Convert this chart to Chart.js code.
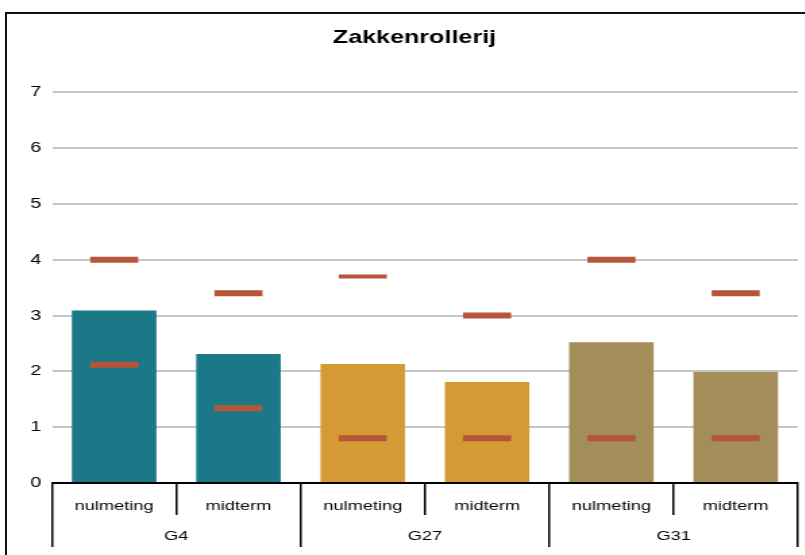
<!DOCTYPE html>
<html>
<head>
<meta charset="utf-8">
<script src="https://cdn.jsdelivr.net/npm/chart.js@4.4.0/dist/chart.umd.min.js"></script>
<style>
  html, body { margin: 0; padding: 0; background: #fff; overflow: hidden; width: 805px; height: 555px; }
  #frame { position: absolute; left: 5px; top: 12px; width: 900px; height: 700px;
           border-left: 2px solid #111; border-top: 2px solid #111; }
  /* the reference is horizontally stretched (and cropped on the right), so draw narrower and stretch */
  #wrap { position: absolute; left: 0; top: 0; width: 614px; height: 555px;
          transform: scaleX(1.35); transform-origin: 0 0; }
</style>
</head>
<body>
<div id="frame"></div>
<div id="wrap"><canvas id="myChart" width="614" height="555"></canvas></div>
<script>
// data
var metingen = ['nulmeting', 'midterm', 'nulmeting', 'midterm', 'nulmeting', 'midterm'];
var groepen = ['G4', 'G27', 'G31'];
var scores = [3.09, 2.31, 2.13, 1.81, 2.52, 1.99];
var bovengrens = [4.0, 3.4, 3.7, 3.0, 4.0, 3.4];
var ondergrens = [2.12, 1.34, 0.8, 0.8, 0.8, 0.8];
var yTicks = [0, 1, 2, 3, 4, 5, 6, 7];

var kleuren = ['#1a7887', '#1a7887', '#d49a33', '#d49a33', '#a38d58', '#a38d58'];
var rood = '#b5553a';
var fontje = { family: 'Liberation Sans, Arial, sans-serif', size: 13.5 };

Chart.defaults.animation = false;

// no extra side padding for the x axes, the labels sit inside their categories
function geenPadding(s) { s.paddingLeft = 0; s.paddingRight = 0; }

var chart = new Chart('myChart', {
  type: 'bar',
  data: {
    labels: metingen,
    datasets: [{
      type: 'line',
      data: bovengrens,
      xAxisID: 'x',
      yAxisID: 'y',
      showLine: false,
      pointStyle: 'line',
      pointRadius: 17.8,
      pointHoverRadius: 17.8,
      pointBorderWidth: [6, 6, 4, 6, 6, 6],
      pointBorderColor: rood,
      order: 1
    }, {
      type: 'line',
      data: ondergrens,
      xAxisID: 'x',
      yAxisID: 'y',
      showLine: false,
      pointStyle: 'line',
      pointRadius: 17.8,
      pointHoverRadius: 17.8,
      pointBorderWidth: 6,
      pointBorderColor: rood,
      order: 1
    }, {
      data: scores,
      xAxisID: 'x',
      yAxisID: 'y',
      backgroundColor: kleuren,
      categoryPercentage: 1,
      barPercentage: 0.68,
      order: 2
    }]
  },
  options: {
    responsive: false,
    devicePixelRatio: 1,
    layout: { autoPadding: false, padding: 0 },
    plugins: {
      legend: { display: false },
      tooltip: { enabled: false },
      title: {
        display: true,
        text: 'Zakkenrollerij',
        color: '#000',
        font: { family: 'Liberation Sans, Arial, sans-serif', size: 18.6, weight: 'bold' },
        padding: { top: 27, bottom: 43 }
      }
    },
    scales: {
      y: {
        min: 0,
        max: 7,
        afterFit: function (s) { s.width = 38.5; },
        afterBuildTicks: function (s) { s.ticks = yTicks.map(function (v) { return { value: v }; }); },
        ticks: { color: '#000', font: { family: 'Liberation Sans, Arial, sans-serif', size: 14.5 }, padding: 8 },
        grid: { color: '#c6c6c6', lineWidth: 2, drawTicks: false },
        border: { display: false }
      },
      // empty space on the right of the plot, so the title stays centred on the whole picture
      rechts: {
        type: 'linear',
        axis: 'y',
        position: 'right',
        afterFit: function (s) { s.width = 23; },
        ticks: { display: false },
        grid: { display: false },
        border: { display: false }
      },
      x: {
        position: 'bottom',
        weight: 0,
        offset: true,
        afterFit: function (s) { s.height = 32; geenPadding(s); },
        ticks: { color: '#000', font: fontje, padding: -17, maxRotation: 0, autoSkip: false },
        grid: { offset: true, drawOnChartArea: false, tickLength: 32, color: '#000', lineWidth: 1.5 },
        border: { display: true, color: '#000', width: 2 }
      },
      x2: {
        type: 'category',
        axis: 'x',
        position: 'bottom',
        weight: 1,
        labels: groepen,
        offset: true,
        afterFit: function (s) { s.height = 40; geenPadding(s); },
        ticks: { color: '#000', font: fontje, padding: -19, maxRotation: 0, autoSkip: false },
        grid: { offset: true, drawOnChartArea: false, tickLength: 32, color: '#000', lineWidth: 1.5 },
        border: { display: false }
      }
    }
  }
});
</script>
</body>
</html>
